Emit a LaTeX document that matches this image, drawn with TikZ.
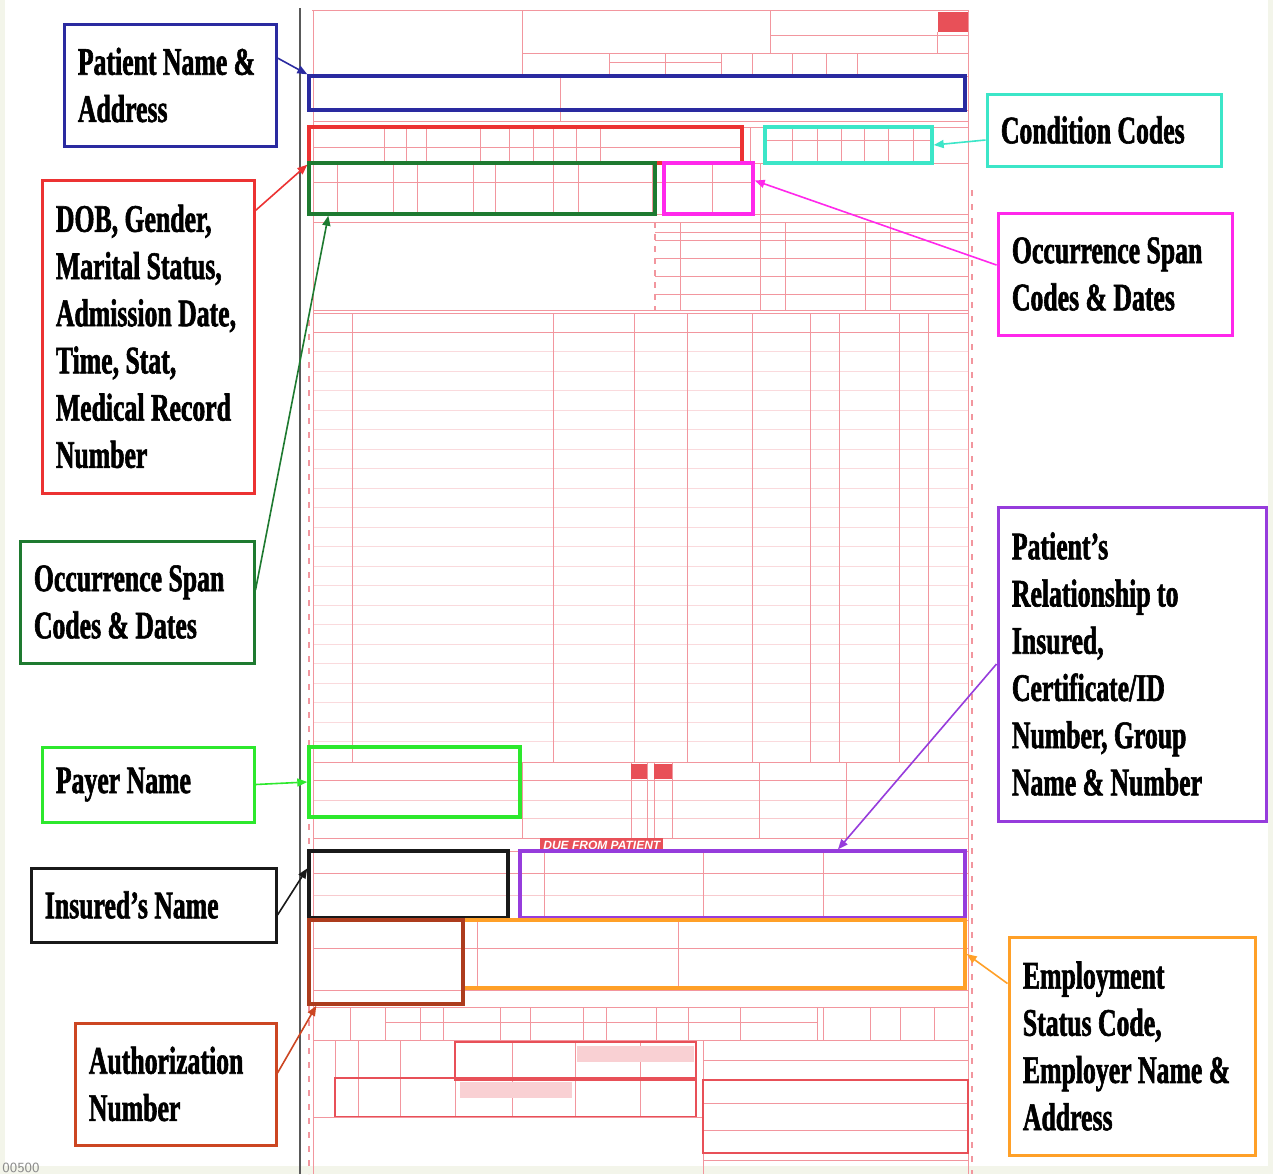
\documentclass[tikz,border=0pt]{standalone}
\usepackage{fontspec}
\newfontfamily\lblfont[FakeStretch=0.66, FakeBold=1.5]{Liberation Serif}
\newfontfamily\banfont{Liberation Sans}
\usetikzlibrary{fit,arrows.meta}

\definecolor{pagecol}{RGB}{243,245,234}
\definecolor{formline}{RGB}{242,150,158}
\definecolor{formdark}{RGB}{232,80,88}
\definecolor{patblue}{RGB}{42,42,160}
\definecolor{dobred}{RGB}{236,50,50}
\definecolor{occgreen}{RGB}{30,122,48}
\definecolor{payergreen}{RGB}{45,232,45}
\definecolor{insblack}{RGB}{25,25,25}
\definecolor{authred}{RGB}{204,70,34}
\definecolor{condcyan}{RGB}{60,230,200}
\definecolor{spanmag}{RGB}{255,40,235}
\definecolor{relpurple}{RGB}{150,60,220}
\definecolor{emporange}{RGB}{255,160,40}

\tikzset{
  lblbox/.style={draw=#1, line width=1.5pt, inner sep=0pt},
  hlbox/.style={draw=#1, line width=1.7pt, inner sep=0pt},
  lbltxt/.style={anchor=west, align=left, inner sep=0pt, xshift=7.5pt,
    font=\lblfont\bfseries\fontsize{19.5}{23.6}\selectfont},
  pointer/.style={draw=#1, line width=0.8pt, -{Triangle[length=5pt,width=4pt]}},
  formln/.style={draw=formline, line width=0.5pt},
  formbold/.style={draw=formdark, line width=0.9pt},
}

\begin{document}
\begin{tikzpicture}[x=0.5pt, y=-0.5pt]
  \useasboundingbox (0,0) rectangle (1273,1174);
  \fill[pagecol] (0,0) rectangle (1273,1174);
  \fill[white] (5,0) rectangle (1268,1166);

  % form frame
  \draw[formln] (312,10) -- (968,10);
  \draw[formln] (313,10) -- (313,1174);
  \draw[formln] (968,10) -- (968,1174);
  \draw[formline, line width=1pt, dash pattern=on 3pt off 4pt] (309,320) -- (309,1174);
  \draw[formline, line width=1pt, dash pattern=on 3pt off 4pt] (972,190) -- (972,1174);

  % top block
  \draw[formln] (522,10) -- (522,76);
  \draw[formln] (770,10) -- (770,53);
  \draw[formln] (770,35) -- (968,35);
  \draw[formln] (937,32) -- (937,53);
  \fill[formdark] (938,12) rectangle (968,32);
  \draw[formln] (522,53) -- (968,53);
  \foreach \x in {609,665,721,752,792,826,857}
    \draw[formln] (\x,53) -- (\x,76);
  \draw[formln] (609,62) -- (721,62);

  % full rows
  \foreach \y in {76,110,121,127,163,214,222,310,313,332,762,780,838,851,873,920,948,990,1007,1040}
    \draw[formln] (313,\y) -- (968,\y);
  \draw[formln] (560,76) -- (560,121);

  % row of dates
  \foreach \x in {384,406,426,480,509,533,553,576,600}
    \draw[formln] (\x,127) -- (\x,163);
  \draw[formln] (313,147) -- (742,147);
  \foreach \x in {750,765,792,817,841,864,888,913,933}
    \draw[formln] (\x,127) -- (\x,163);
  \draw[formln] (765,140) -- (933,140);

  % occurrence row
  \foreach \x in {337,393,417,473,495,553,578,652,712,760}
    \draw[formln] (\x,163) -- (\x,214);
  \draw[formln] (313,182) -- (753,182);
  \draw[formln] (760,163) -- (760,222);

  % value codes
  \draw[formline, line width=1pt, dash pattern=on 3pt off 3pt] (655,222) -- (655,310);
  \foreach \x in {680,760,785,865,890}
    \draw[formln] (\x,222) -- (\x,310);
  \foreach \y in {232,240,258,276,294}
    \draw[formln] (655,\y) -- (968,\y);

  % service lines
  \foreach \x in {352,553,634,687,752,810,839,899,928}
    \draw[formln] (\x,313) -- (\x,762);
  \foreach \y in {351.5,371,...,751}
    \draw[formln, opacity=0.35] (313,\y) -- (968,\y);

  % payer block
  \foreach \x in {522,631,647,654,672,759,846}
    \draw[formln] (\x,762) -- (\x,838);
  \fill[formdark] (631,764) rectangle (647,779);
  \fill[formdark] (654,764) rectangle (672,779);
  \foreach \y in {800,818}
    \draw[formln, opacity=0.5] (313,\y) -- (968,\y);
  \node[fill=formdark, text=white, inner sep=1.5pt, anchor=west,
    font=\banfont\bfseries\itshape\fontsize{6}{6}\selectfont] (dueBan) at (540,845) {DUE FROM PATIENT};

  % insured block
  \foreach \x in {520,544,703,823}
    \draw[formln] (\x,851) -- (\x,920);
  \draw[formln, opacity=0.5] (313,895) -- (968,895);

  % employer block
  \foreach \x in {464,477,678}
    \draw[formln] (\x,920) -- (\x,990);

  % codes row
  \foreach \x in {350,385,420,443,500,530,583,606,656,688,740,817,823,870,900,934}
    \draw[formln] (\x,1007) -- (\x,1040);
  \draw[formln] (385,1022) -- (817,1022);

  % procedures
  \foreach \x in {335,358,400,455,512,575,640,696}
    \draw[formln] (\x,1040) -- (\x,1117);
  \fill[formline!45] (577,1046) rectangle (694,1062);
  \fill[formline!45] (460,1082) rectangle (572,1098);
  \draw[formbold] (455,1042) rectangle (696,1080);
  \draw[formbold] (335,1078) rectangle (696,1117);
  \draw[formln] (313,1117) -- (703,1117);
  \draw[formln] (703,1040) -- (703,1174);
  \foreach \y in {1060,1103,1130,1160}
    \draw[formln] (703,\y) -- (968,\y);
  \draw[formbold] (703,1080) rectangle (968,1153);

  % highlighted fields
  \node[hlbox=patblue, fit={(309,76) (965,110)}] (fPat) {};
  \node[hlbox=dobred, fit={(309,127) (742,163)}] (fDob) {};
  \node[hlbox=condcyan, fit={(765,127) (932,163)}] (fCond) {};
  \node[hlbox=occgreen, fit={(309,163) (655,214)}] (fOcc) {};
  \node[hlbox=spanmag, fit={(664,163) (753,214)}] (fSpan) {};
  \node[hlbox=payergreen, fit={(309,747) (520,817)}] (fPay) {};
  \node[hlbox=insblack, fit={(309,851) (508,918)}] (fIns) {};
  \node[hlbox=relpurple, fit={(520,851) (965,918)}] (fRel) {};
  \node[hlbox=emporange, fit={(463,920) (965,988)}] (fEmp) {};
  \node[hlbox=authred!85!black, fit={(309,920) (463,1004)}] (fAuth) {};

  \draw[black!65, line width=1pt] (300,8) -- (300,1174);

  % labels
  \node[lblbox=patblue, fit={(64,24) (276,146)}] (patLbl) {};
  \node[lbltxt] (patTxt) at (patLbl.west) {Patient Name \&\\Address};
  \node[lblbox=dobred, fit={(42,180) (254,493)}] (dobLbl) {};
  \node[lbltxt] (dobTxt) at (dobLbl.west) {DOB, Gender,\\Marital Status,\\Admission Date,\\Time, Stat,\\Medical Record\\Number};
  \node[lblbox=occgreen, fit={(20,541) (254,663)}] (occLbl) {};
  \node[lbltxt] (occTxt) at (occLbl.west) {Occurrence Span\\Codes \& Dates};
  \node[lblbox=payergreen, fit={(42,747) (254,822)}] (payLbl) {};
  \node[lbltxt] (payTxt) at (payLbl.west) {Payer Name};
  \node[lblbox=insblack, fit={(31,868) (276,942)}] (insLbl) {};
  \node[lbltxt] (insTxt) at (insLbl.west) {Insured’s Name};
  \node[lblbox=authred, fit={(75,1023) (276,1145)}] (authLbl) {};
  \node[lbltxt] (authTxt) at (authLbl.west) {Authorization\\Number};
  \node[lblbox=condcyan, fit={(987,94) (1221,166)}] (condLbl) {};
  \node[lbltxt] (condTxt) at (condLbl.west) {Condition Codes};
  \node[lblbox=spanmag, fit={(998,213) (1232,335)}] (spanLbl) {};
  \node[lbltxt] (spanTxt) at (spanLbl.west) {Occurrence Span\\Codes \& Dates};
  \node[lblbox=relpurple, fit={(998,507) (1266,821)}] (relLbl) {};
  \node[lbltxt] (relTxt) at (relLbl.west) {Patient’s\\Relationship to\\Insured,\\Certificate/ID\\Number, Group\\Name \& Number};
  \node[lblbox=emporange, fit={(1009,937) (1255,1155)}] (empLbl) {};
  \node[lbltxt] (empTxt) at (empLbl.west) {Employment\\Status Code,\\Employer Name \&\\Address};

  % pointers
  \draw[pointer=patblue] ([yshift=13.5pt]patLbl.east) -- (fPat.north west);
  \draw[pointer=dobred] ([yshift=-16pt]dobLbl.north east) -- (fDob.south west);
  \draw[pointer=occgreen] ([yshift=6pt]occLbl.east) -- ([xshift=10.5pt]fOcc.south west);
  \draw[pointer=payergreen] (payLbl.east) -- (fPay.west);
  \draw[pointer=insblack] ([yshift=-5pt]insLbl.east) -- ([yshift=-9.5pt]fIns.north west);
  \draw[pointer=authred] ([yshift=5.5pt]authLbl.east) -- ([xshift=4.5pt]fAuth.south west);
  \draw[pointer=condcyan] ([yshift=-5pt]condLbl.west) -- (fCond.east);
  \draw[pointer=spanmag] ([yshift=4.5pt]spanLbl.west) -- ([yshift=4pt]fSpan.east);
  \draw[pointer=relpurple] (relLbl.west) -- ([xshift=47.75pt]fRel.north);
  \draw[pointer=emporange] ([yshift=-24pt]empLbl.north west) -- (fEmp.east);

  % page number
  \node[anchor=south west, inner sep=0pt, text=black!45,
    font=\sffamily\fontsize{7}{7}\selectfont] (pgNo) at (2,1173) {00500};
\end{tikzpicture}
\end{document}
